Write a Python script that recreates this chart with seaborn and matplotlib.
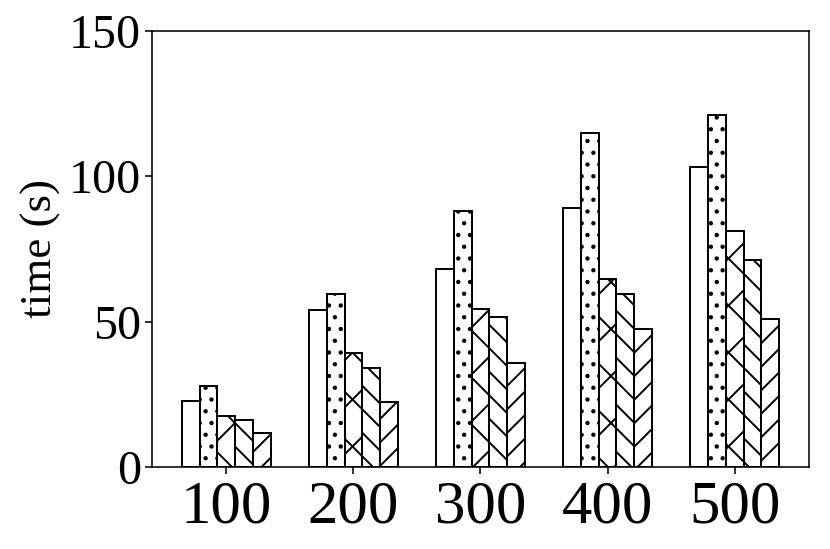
import matplotlib
matplotlib.use("Agg")
import matplotlib.pyplot as plt
import seaborn as sns
import pandas as pd

categories = ["100", "200", "300", "400", "500"]
series_names = ["A", "B", "C", "D", "E"]
s1 = [22.7, 53.9, 68.0, 88.9, 103.0]
s2 = [27.8, 59.4, 87.9, 114.7, 121.2]
s3 = [17.5, 39.1, 54.2, 64.5, 81.0]
s4 = [16.1, 34.0, 51.5, 59.4, 71.0]
s5 = [11.7, 22.3, 35.7, 47.4, 50.8]
hatches = ["", "..", "x", "\\\\", "//"]

rows = []
for name, vals in zip(series_names, [s1, s2, s3, s4, s5]):
    for c, v in zip(categories, vals):
        rows.append({"n": c, "method": name, "time": v})
df = pd.DataFrame(rows)

sns.set_style("ticks")
plt.rcParams["font.family"] = ["Liberation Serif", "DejaVu Serif"]
plt.rcParams["hatch.linewidth"] = 1.0
plt.rcParams["text.color"] = "black"
plt.rcParams["axes.labelcolor"] = "black"
plt.rcParams["xtick.color"] = "black"
plt.rcParams["ytick.color"] = "black"

DPI = 141
fig = plt.figure(figsize=(830 / DPI, 549 / DPI), dpi=DPI)
ax = fig.add_axes([0.1831, 0.1494, 0.7916, 0.7946])
sns.barplot(data=df, x="n", y="time", hue="method", order=categories,
            hue_order=series_names, width=0.7,
            palette=["white"] * 5, edgecolor="black", linewidth=1.0,
            legend=False, ax=ax, errorbar=None)
for cont, h in zip(ax.containers, hatches):
    for p in cont:
        p.set_hatch(h)
        p.set_facecolor("white")
        p.set_edgecolor("black")

ax.set_xlim(-0.585, 4.585)
ax.set_ylim(0, 150)
ax.set_yticks([0, 50, 100, 150])
ax.set_xlabel("")
ax.set_ylabel("time (s)", fontsize=23, labelpad=4)
ax.tick_params(axis="x", labelsize=31, length=3.5, width=0.8, pad=3)
ax.tick_params(axis="y", labelsize=24.5, length=3.5, width=0.8, pad=2)
for s in ax.spines.values():
    s.set_linewidth(0.8)
    s.set_color("black")
    s.set_visible(True)

fig.savefig("out.png", dpi=DPI)
